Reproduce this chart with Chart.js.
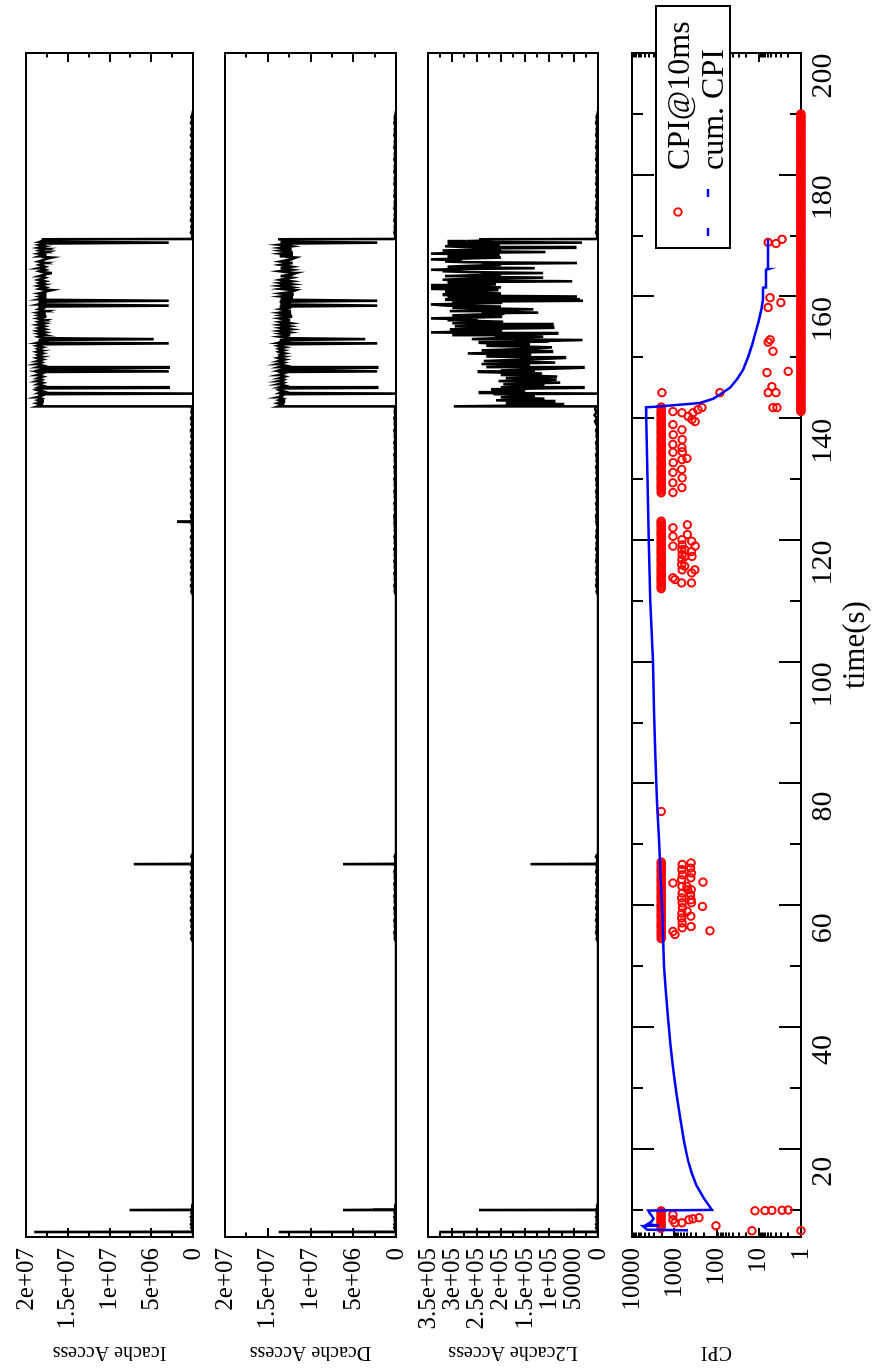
<!DOCTYPE html>
<html>
<head>
<meta charset="utf-8">
<title>Cache accesses and CPI over time</title>
<script src="https://cdn.jsdelivr.net/npm/chart.js"></script>
<style>
  html, body { margin: 0; padding: 0; background: #fff; overflow: hidden; }
  body { width: 874px; height: 1368px; position: relative; }
  /* the figure is laid out landscape and turned a quarter turn for the page */
  #figure { position: absolute; left: 0; top: 0; width: 1368px; height: 874px;
            transform-origin: 0 0; transform: translate(0, 1368px) rotate(-90deg); }
  #figure canvas { position: absolute; left: 0; top: 0; }
</style>
</head>
<body>
<div id="figure">
  <canvas id="icache" width="1368" height="874"></canvas>
  <canvas id="dcache" width="1368" height="874"></canvas>
  <canvas id="l2cache" width="1368" height="874"></canvas>
  <canvas id="cpi" width="1368" height="874"></canvas>
</div>
<script>
// ---------------- axis ticks ----------------
const timeMin = 5.5, timeMax = 200;
const timeTicks = [20, 40, 60, 80, 100, 120, 140, 160, 180, 200];
const timeTickLabels = ['20', '40', '60', '80', '100', '120', '140', '160', '180', '200'];
const timeMinorTicks = [10, 30, 50, 70, 90, 110, 130, 150, 170, 190];

const accessTicks = [0, 5e6, 1e7, 1.5e7, 2e7];
const accessTickLabels = ['0', '5e+06', '1e+07', '1.5e+07', '2e+07'];
const accessMinorTicks = [2.5e6, 7.5e6, 1.25e7, 1.75e7];

const l2Ticks = [0, 5e4, 1e5, 1.5e5, 2e5, 2.5e5, 3e5, 3.5e5];
const l2TickLabels = ['0', '50000', '1e+05', '1.5e+05', '2e+05', '2.5e+05', '3e+05', '3.5e+05'];
const l2MinorTicks = [2.5e4, 7.5e4, 1.25e5, 1.75e5, 2.25e5, 2.75e5, 3.25e5];

const cpiTicks = [1, 10, 100, 1000, 10000];
const cpiTickLabels = ['1', '10', '100', '1000', '10000'];
const cpiMinorTicks = [2, 3, 4, 5, 6, 7, 8, 9, 20, 30, 40, 50, 60, 70, 80, 90,
  200, 300, 400, 500, 600, 700, 800, 900, 2000, 3000, 4000, 5000, 6000, 7000, 8000, 9000];

// ---------------- cache access samples (time in s) ----------------
const cacheTime = [
  // start-up burst
  5.60, 6.28, 6.32, 6.36, 6.70, 7.00, 7.30, 7.60, 7.90, 8.20,
  8.50, 8.80, 9.10, 9.40, 9.88, 9.93, 9.97, 10.02, 10.30, 10.60,
  11.00,
  // second phase
  54.0, 54.5, 55.0, 55.5, 56.0, 56.5, 57.0, 57.5, 58.0, 58.5,
  59.0, 59.5, 60.0, 60.5, 61.0, 61.5, 62.0, 62.5, 63.0, 63.5,
  64.0, 64.5, 65.0, 65.5, 66.0, 66.70, 66.75, 66.80, 67.5, 68.0,
  68.5,
  // third phase
  111.0, 111.5, 112.0, 112.5, 113.0, 113.5, 114.0, 114.5, 115.0, 115.5,
  116.0, 116.5, 117.0, 117.5, 118.0, 118.5, 119.0, 119.5, 120.0, 120.5,
  121.0, 121.5, 122.0, 122.95, 123.0, 123.05, 124.0, 124.5, 125.0, 125.5,
  126.0, 126.5, 127.0, 127.5, 128.0, 128.5, 129.0, 129.5, 130.0, 130.5,
  131.0, 131.5, 132.0, 132.5, 133.0, 133.5, 134.0, 134.5, 135.0, 135.5,
  136.0, 136.5, 137.0, 137.5, 138.0, 138.5, 139.0, 139.5, 140.0, 140.5,
  141.0, 141.5, 141.9,
  // heavy phase
  141.95, 142.20, 142.45, 142.70, 142.95, 143.20, 143.45, 143.70, 143.95, 144.05,
  144.15, 144.40, 144.65, 144.90, 145.00, 145.10, 145.35, 145.60, 145.85, 146.10,
  146.35, 146.60, 146.85, 147.10, 147.35, 147.60, 147.70, 147.85, 148.10, 148.30,
  148.40, 148.65, 148.90, 149.15, 149.40, 149.65, 149.90, 150.15, 150.40, 150.65,
  150.90, 151.15, 151.40, 151.65, 151.90, 152.15, 152.30, 152.40, 152.60, 152.85,
  153.00, 153.15, 153.40, 153.65, 153.90, 154.10, 154.35, 154.60, 154.85, 155.10,
  155.35, 155.60, 155.85, 156.10, 156.40, 156.65, 156.90, 157.15, 157.35, 157.60,
  157.90, 158.15, 158.35, 158.50, 158.70, 158.95, 159.15, 159.30, 159.45, 159.55,
  159.80, 160.00, 160.25, 160.50, 160.75, 161.05, 161.25, 161.50, 161.75, 162.00,
  162.25, 162.50, 162.75, 163.10, 163.35, 163.60, 163.85, 164.15, 164.40, 164.65,
  164.90, 165.20, 165.50, 165.75, 166.10, 166.40, 166.60, 166.85, 167.05, 167.30,
  167.55, 167.80, 168.00, 168.25, 168.50, 168.70, 168.85, 169.00, 169.20, 169.40,
  169.45,
  // tail
  169.5, 170.0, 170.5, 171.0, 171.5, 172.0, 172.5, 173.0, 173.5, 174.0,
  174.5, 175.0, 175.5, 176.0, 176.5, 177.0, 177.5, 178.0, 178.5, 179.0,
  179.5, 180.0, 180.5, 181.0, 181.5, 182.0, 182.5, 183.0, 183.5, 184.0,
  184.5, 185.0, 185.5, 186.0, 186.5, 187.0, 187.5, 188.0, 188.5, 189.0,
  189.5, 190.0, 190.5
];

const icacheValue = [
  0, 0, 1.9e7, 1.5e5, 5e4, 2e5, 1e5, 2.5e5, 5e4, 2e5,
  1e5, 2.5e5, 5e4, 2e5, 1e5, 7.6e6, 1.5e5, 2e5, 5e4, 1e5,
  0,

  0, 2e5, 1e5, 2.5e5, 5e4, 2e5, 1e5, 2.5e5, 5e4, 2e5,
  1e5, 2.5e5, 5e4, 2e5, 1e5, 2.5e5, 5e4, 2e5, 1e5, 2.5e5,
  5e4, 2e5, 1e5, 2.5e5, 5e4, 2e5, 7.1e6, 1.5e5, 5e4, 2e5,
  0,

  0, 2e5, 1e5, 2.5e5, 5e4, 2e5, 1e5, 2.5e5, 5e4, 2e5,
  1e5, 2.5e5, 5e4, 2e5, 1e5, 2.5e5, 5e4, 2e5, 1e5, 2.5e5,
  5e4, 2e5, 1e5, 2e5, 1.9e6, 1e5, 2.5e5, 5e4, 2e5, 1e5,
  2.5e5, 5e4, 2e5, 1e5, 2.5e5, 5e4, 2e5, 1e5, 2.5e5, 5e4,
  2e5, 1e5, 2.5e5, 5e4, 2e5, 1e5, 2.5e5, 5e4, 2e5, 1e5,
  2.5e5, 5e4, 2e5, 1e5, 2.5e5, 5e4, 2e5, 1e5, 2.5e5, 5e4,
  2e5, 1e5, 2e5,

  1.86e7, 1.81e7, 1.87e7, 1.80e7, 1.86e7, 1.81e7, 1.87e7, 1.81e7, 1.85e7, 0,
  1.85e7, 1.80e7, 1.87e7, 1.81e7, 2.9e6, 1.85e7, 1.80e7, 1.86e7, 1.80e7, 1.87e7,
  1.81e7, 1.86e7, 1.80e7, 1.87e7, 1.81e7, 1.86e7, 2.9e6, 1.86e7, 1.80e7, 2.9e6,
  1.86e7, 1.80e7, 1.87e7, 1.81e7, 1.86e7, 1.80e7, 1.87e7, 1.81e7, 1.86e7, 1.80e7,
  1.87e7, 1.81e7, 1.86e7, 1.80e7, 1.87e7, 1.81e7, 2.9e6, 1.86e7, 1.80e7, 1.85e7,
  4.7e6, 1.79e7, 1.85e7, 1.77e7, 1.85e7, 1.77e7, 1.86e7, 1.77e7, 1.85e7, 1.78e7,
  1.86e7, 1.77e7, 1.85e7, 1.78e7, 1.86e7, 1.77e7, 1.85e7, 1.78e7, 1.86e7, 1.77e7,
  1.85e7, 1.78e7, 1.85e7, 2.9e6, 1.85e7, 1.77e7, 1.85e7, 2.9e6, 1.77e7, 1.84e7,
  1.77e7, 1.84e7, 1.77e7, 1.85e7, 1.77e7, 1.69e7, 1.84e7, 1.77e7, 1.85e7, 1.77e7,
  1.84e7, 1.77e7, 1.85e7, 1.77e7, 1.84e7, 1.77e7, 1.69e7, 1.84e7, 1.77e7, 1.85e7,
  1.77e7, 1.84e7, 1.77e7, 1.85e7, 1.77e7, 1.69e7, 1.84e7, 1.77e7, 1.85e7, 1.77e7,
  1.84e7, 1.77e7, 1.85e7, 1.77e7, 1.84e7, 1.77e7, 2.9e6, 1.83e7, 1.78e7, 1.81e7,
  1e5,

  2e5, 5e4, 2.5e5, 1e5, 2e5, 5e4, 2.5e5, 1e5, 2e5, 5e4,
  2.5e5, 1e5, 2e5, 5e4, 2.5e5, 1e5, 2e5, 5e4, 2.5e5, 1e5,
  2e5, 5e4, 2.5e5, 1e5, 2e5, 5e4, 2.5e5, 1e5, 2e5, 5e4,
  2.5e5, 1e5, 2e5, 5e4, 2.5e5, 1e5, 2e5, 5e4, 2.5e5, 1e5,
  2e5, 5e4, 0
];

const dcacheValue = [
  0, 0, 1.37e7, 1.5e5, 5e4, 2e5, 1e5, 2e5, 5e4, 1.5e5,
  1e5, 2e5, 5e4, 1.5e5, 1e5, 6.2e6, 2.7e6, 1.5e5, 5e4, 1e5,
  0,

  0, 1.5e5, 1e5, 2e5, 5e4, 1.5e5, 1e5, 2e5, 5e4, 1.5e5,
  1e5, 2e5, 5e4, 1.5e5, 1e5, 2e5, 5e4, 1.5e5, 1e5, 2e5,
  5e4, 1.5e5, 1e5, 2e5, 5e4, 1.5e5, 6.2e6, 1e5, 5e4, 1.5e5,
  0,

  0, 1.5e5, 1e5, 2e5, 5e4, 1.5e5, 1e5, 2e5, 5e4, 1.5e5,
  1e5, 2e5, 5e4, 1.5e5, 1e5, 2e5, 5e4, 1.5e5, 1e5, 2e5,
  5e4, 1.5e5, 1e5, 1.5e5, 1e5, 1e5, 2e5, 5e4, 1.5e5, 1e5,
  2e5, 5e4, 1.5e5, 1e5, 2e5, 5e4, 1.5e5, 1e5, 2e5, 5e4,
  1.5e5, 1e5, 2e5, 5e4, 1.5e5, 1e5, 2e5, 5e4, 1.5e5, 1e5,
  2e5, 5e4, 1.5e5, 1e5, 2e5, 5e4, 1.5e5, 1e5, 2e5, 5e4,
  1.5e5, 1e5, 1.5e5,

  1.37e7, 1.32e7, 1.38e7, 1.31e7, 1.37e7, 1.32e7, 1.38e7, 1.33e7, 1.36e7, 0,
  1.36e7, 1.31e7, 1.37e7, 1.32e7, 2.2e6, 1.36e7, 1.30e7, 1.37e7, 1.31e7, 1.37e7,
  1.31e7, 1.36e7, 1.30e7, 1.37e7, 1.31e7, 1.36e7, 2.2e6, 1.37e7, 1.31e7, 2.2e6,
  1.37e7, 1.30e7, 1.38e7, 1.31e7, 1.37e7, 1.30e7, 1.38e7, 1.31e7, 1.36e7, 1.30e7,
  1.37e7, 1.31e7, 1.37e7, 1.30e7, 1.38e7, 1.31e7, 2.2e6, 1.37e7, 1.31e7, 1.36e7,
  3.6e6, 1.29e7, 1.36e7, 1.24e7, 1.35e7, 1.24e7, 1.36e7, 1.23e7, 1.35e7, 1.24e7,
  1.36e7, 1.23e7, 1.35e7, 1.24e7, 1.36e7, 1.23e7, 1.35e7, 1.24e7, 1.36e7, 1.23e7,
  1.35e7, 1.24e7, 1.36e7, 2.2e6, 1.35e7, 1.24e7, 1.36e7, 2.2e6, 1.22e7, 1.35e7,
  1.22e7, 1.35e7, 1.21e7, 1.35e7, 1.22e7, 1.17e7, 1.35e7, 1.22e7, 1.36e7, 1.21e7,
  1.35e7, 1.22e7, 1.35e7, 1.22e7, 1.35e7, 1.21e7, 1.17e7, 1.36e7, 1.22e7, 1.35e7,
  1.22e7, 1.35e7, 1.21e7, 1.35e7, 1.22e7, 1.17e7, 1.36e7, 1.22e7, 1.35e7, 1.21e7,
  1.35e7, 1.22e7, 1.35e7, 1.22e7, 1.36e7, 1.22e7, 2.2e6, 1.35e7, 1.27e7, 1.38e7,
  1e5,

  1.5e5, 5e4, 2e5, 1e5, 1.5e5, 5e4, 2e5, 1e5, 1.5e5, 5e4,
  2e5, 1e5, 1.5e5, 5e4, 2e5, 1e5, 1.5e5, 5e4, 2e5, 1e5,
  1.5e5, 5e4, 2e5, 1e5, 1.5e5, 5e4, 2e5, 1e5, 1.5e5, 5e4,
  2e5, 1e5, 1.5e5, 5e4, 2e5, 1e5, 1.5e5, 5e4, 2e5, 1e5,
  1.5e5, 5e4, 0
];

const l2cacheValue = [
  0, 0, 3.27e5, 3e3, 1e3, 4e3, 2e3, 4e3, 1e3, 3e3,
  2e3, 4e3, 1e3, 3e3, 2e3, 2.45e5, 3e3, 4e3, 1e3, 2e3,
  0,

  0, 3e3, 1e3, 4e3, 2e3, 3e3, 1e3, 4e3, 2e3, 3e3,
  1e3, 4e3, 2e3, 3e3, 1e3, 4e3, 2e3, 3e3, 1e3, 4e3,
  2e3, 3e3, 1e3, 4e3, 2e3, 3e3, 1.39e5, 3e3, 1e3, 4e3,
  0,

  0, 3e3, 1e3, 4e3, 2e3, 3e3, 1e3, 4e3, 2e3, 3e3,
  1e3, 4e3, 2e3, 3e3, 1e3, 4e3, 2e3, 3e3, 1e3, 4e3,
  2e3, 3e3, 1e3, 3e3, 2e3, 2e3, 4e3, 1e3, 3e3, 2e3,
  4e3, 1e3, 3e3, 2e3, 4e3, 1e3, 3e3, 2e3, 4e3, 1e3,
  3e3, 2e3, 4e3, 1e3, 3e3, 2e3, 4e3, 1e3, 3e3, 2e3,
  4e3, 1e3, 3e3, 2e3, 4e3, 1e3, 3e3, 6e3, 2e3, 7e3,
  3e3, 6e3, 4e3,

  2.97e5, 7.2e4, 1.9e5, 9.0e4, 2.1e5, 1.1e5, 2.0e5, 1.3e5, 2.15e5, 0,
  2.46e5, 1.5e5, 2.2e5, 1.3e5, 3.0e4, 2.0e5, 1.1e5, 1.95e5, 7.8e4, 2.05e5,
  8.5e4, 1.9e5, 8.4e4, 2.0e5, 1.15e5, 2.48e5, 1.3e5, 2.0e5, 1.1e5, 3.0e4,
  2.3e5, 1.4e5, 2.4e5, 8.8e4, 2.35e5, 1.45e5, 6.8e4, 2.3e5, 1.4e5, 2.68e5,
  9.5e4, 2.4e5, 1.35e5, 9.5e4, 2.3e5, 1.4e5, 2.2e5, 2.46e5, 1.04e5, 3.2e4,
  2.6e5, 2.1e5, 1.13e5, 3.0e5, 8.4e4, 3.44e5, 2.0e5, 3.05e5, 9.2e4, 2.95e5,
  9.4e4, 3.0e5, 1.95e5, 3.1e5, 3.44e5, 2.0e5, 3.0e5, 1.95e5, 1.23e5, 3.05e5,
  1.33e5, 3.0e5, 2.0e5, 3.1e5, 3.44e5, 2.0e5, 3.0e5, 3.1e4, 3.15e5, 3.7e4,
  3.1e5, 4.3e4, 3.2e5, 2.0e5, 3.15e5, 2.05e5, 3.44e5, 2.0e5, 3.44e5, 2.1e5,
  3.1e5, 5.3e4, 3.2e5, 1.13e5, 3.15e5, 2.0e5, 1.13e5, 3.2e5, 3.44e5, 1.3e5,
  3.1e5, 2.0e5, 4.3e4, 3.15e5, 3.44e5, 2.0e5, 3.1e5, 2.05e5, 3.44e5, 1.08e5,
  3.2e5, 2.0e5, 4.7e4, 3.15e5, 2.05e5, 3.1e5, 3.3e4, 3.1e5, 2.2e5, 2.45e5,
  3e3,

  3e3, 1e3, 4e3, 2e3, 3e3, 1e3, 4e3, 2e3, 3e3, 1e3,
  4e3, 2e3, 3e3, 1e3, 4e3, 2e3, 3e3, 1e3, 4e3, 2e3,
  3e3, 1e3, 4e3, 2e3, 3e3, 1e3, 4e3, 2e3, 3e3, 1e3,
  4e3, 2e3, 3e3, 1e3, 4e3, 2e3, 3e3, 1e3, 4e3, 2e3,
  3e3, 1e3, 0
];

// extra samples inside the heavy phase (between the ones above)
const burstTime = [
  142.08, 142.33, 142.58, 142.83, 143.08, 143.33, 143.58, 143.83,
  144.28, 144.53, 144.78,
  145.23, 145.48, 145.73, 145.98, 146.23, 146.48, 146.73, 146.98, 147.23, 147.48,
  147.98,
  148.53, 148.78, 149.03, 149.28, 149.53, 149.78, 150.03, 150.28, 150.53, 150.78, 151.03, 151.28, 151.53, 151.78, 152.03,
  152.50, 152.72,
  153.28, 153.53, 153.78, 154.00, 154.23, 154.48, 154.73, 154.98, 155.23, 155.48, 155.73, 155.98, 156.25, 156.53, 156.78, 157.03, 157.25, 157.48, 157.75, 158.03, 158.25,
  158.83, 159.05,
  159.68, 159.90, 160.13, 160.38, 160.63, 160.90, 161.15, 161.38, 161.63, 161.88,
  162.13, 162.38, 162.63, 162.93, 163.23, 163.48, 163.73, 164.00, 164.28, 164.53,
  164.78, 165.05, 165.35, 165.63, 165.93, 166.25, 166.50, 166.73, 166.95, 167.18,
  167.43, 167.68, 167.90, 168.13, 168.38, 168.60,
  169.10, 169.30
];
const burstIcache = [
  1.83e7, 1.84e7, 1.83e7, 1.84e7, 1.83e7, 1.84e7, 1.83e7, 1.84e7,
  1.83e7, 1.84e7, 1.83e7,
  1.83e7, 1.83e7, 1.84e7, 1.83e7, 1.84e7, 1.83e7, 1.84e7, 1.83e7, 1.84e7, 1.83e7,
  1.83e7,
  1.83e7, 1.84e7, 1.83e7, 1.84e7, 1.83e7, 1.84e7, 1.83e7, 1.84e7, 1.83e7, 1.84e7, 1.83e7, 1.84e7, 1.83e7, 1.84e7, 1.83e7,
  1.83e7, 1.83e7,
  1.81e7, 1.82e7, 1.81e7, 1.81e7, 1.82e7, 1.81e7, 1.81e7, 1.82e7, 1.81e7, 1.81e7, 1.82e7, 1.81e7, 1.81e7, 1.82e7, 1.81e7, 1.81e7, 1.82e7, 1.81e7, 1.81e7, 1.82e7, 1.81e7,
  1.81e7, 1.81e7,
  1.80e7, 1.81e7, 1.80e7, 1.81e7, 1.80e7, 1.74e7, 1.80e7, 1.81e7, 1.80e7, 1.81e7,
  1.80e7, 1.81e7, 1.80e7, 1.81e7, 1.80e7, 1.81e7, 1.74e7, 1.80e7, 1.81e7, 1.80e7,
  1.81e7, 1.80e7, 1.81e7, 1.80e7, 1.81e7, 1.74e7, 1.80e7, 1.81e7, 1.80e7, 1.81e7,
  1.80e7, 1.81e7, 1.80e7, 1.81e7, 1.80e7, 1.81e7,
  1.81e7, 1.80e7
];
const burstDcache = [
  1.34e7, 1.35e7, 1.34e7, 1.35e7, 1.34e7, 1.35e7, 1.34e7, 1.35e7,
  1.34e7, 1.35e7, 1.34e7,
  1.33e7, 1.34e7, 1.33e7, 1.34e7, 1.33e7, 1.34e7, 1.33e7, 1.34e7, 1.33e7, 1.34e7,
  1.34e7,
  1.34e7, 1.35e7, 1.34e7, 1.35e7, 1.34e7, 1.35e7, 1.34e7, 1.35e7, 1.34e7, 1.35e7, 1.34e7, 1.35e7, 1.34e7, 1.35e7, 1.34e7,
  1.34e7, 1.33e7,
  1.30e7, 1.29e7, 1.30e7, 1.30e7, 1.29e7, 1.30e7, 1.30e7, 1.29e7, 1.30e7, 1.30e7, 1.29e7, 1.30e7, 1.30e7, 1.29e7, 1.30e7, 1.30e7, 1.29e7, 1.30e7, 1.30e7, 1.29e7, 1.30e7,
  1.30e7, 1.30e7,
  1.28e7, 1.29e7, 1.28e7, 1.29e7, 1.28e7, 1.20e7, 1.28e7, 1.29e7, 1.28e7, 1.29e7,
  1.28e7, 1.29e7, 1.28e7, 1.29e7, 1.28e7, 1.29e7, 1.20e7, 1.28e7, 1.29e7, 1.28e7,
  1.29e7, 1.28e7, 1.29e7, 1.28e7, 1.29e7, 1.20e7, 1.28e7, 1.29e7, 1.28e7, 1.29e7,
  1.28e7, 1.29e7, 1.28e7, 1.29e7, 1.28e7, 1.29e7,
  1.31e7, 1.30e7
];
const burstL2cache = [
  1.6e5, 1.3e5, 1.4e5, 1.5e5, 1.6e5, 1.55e5, 1.65e5, 1.7e5,
  2.0e5, 1.85e5, 1.75e5,
  1.55e5, 1.5e5, 1.4e5, 1.45e5, 1.5e5, 1.4e5, 1.35e5, 1.45e5, 1.6e5, 1.8e5,
  1.55e5,
  1.85e5, 1.9e5, 1.6e5, 1.6e5, 1.9e5, 1.05e5, 1.5e5, 1.85e5, 2.0e5, 1.8e5, 1.7e5, 1.9e5, 1.15e5, 1.6e5, 1.85e5,
  1.75e5, 1.0e5,
  1.6e5, 2.1e5, 1.9e5, 2.1e5, 2.7e5, 2.5e5, 2.0e5, 1.9e5, 1.9e5, 2.0e5, 2.5e5, 2.5e5, 2.6e5, 2.7e5, 2.5e5, 2.5e5, 2.4e5, 2.1e5, 2.2e5, 2.2e5, 2.5e5,
  2.7e5, 2.5e5,
  2.6e5, 2.7e5, 2.7e5, 2.6e5, 2.6e5, 2.6e5, 2.7e5, 2.7e5, 2.7e5, 2.8e5,
  2.6e5, 2.7e5, 2.7e5, 2.6e5, 2.6e5, 2.6e5, 2.4e5, 2.6e5, 2.8e5, 2.7e5,
  2.6e5, 2.6e5, 2.4e5, 2.7e5, 2.8e5, 2.7e5, 2.6e5, 2.6e5, 2.7e5, 2.8e5,
  2.6e5, 2.6e5, 2.4e5, 2.7e5, 2.6e5, 2.6e5,
  2.7e5, 2.3e5
];

// ---------------- CPI sampled every 10 ms ----------------
// steady stretches around CPI ~2000
const bandTime = [
  6.90, 7.20, 7.50, 7.80, 8.10, 8.40, 8.70, 9.00, 9.30, 9.60, 9.80,

  54.5, 54.8, 55.1, 55.4, 55.7, 56.0, 56.3, 56.6, 56.9, 57.2,
  57.5, 57.8, 58.1, 58.4, 58.7, 59.0, 59.3, 59.6, 59.9, 60.2,
  60.5, 60.8, 61.1, 61.4, 61.7, 62.0, 62.3, 62.6, 62.9, 63.2,
  63.5, 63.8, 64.1, 64.4, 64.7, 65.0, 65.3, 65.6, 65.9, 66.2,
  66.5, 66.8, 67.1,

  112.0, 112.3, 112.6, 112.9, 113.2, 113.5, 113.8, 114.1, 114.4, 114.7,
  115.0, 115.3, 115.6, 115.9, 116.2, 116.5, 116.8, 117.1, 117.4, 117.7,
  118.0, 118.3, 118.6, 118.9, 119.2, 119.5, 119.8, 120.1, 120.4, 120.7,
  121.0, 121.3, 121.6, 121.9, 122.2, 122.5, 122.8, 123.1,

  127.75, 128.05, 128.35, 128.65, 128.95, 129.25, 129.55, 129.85, 130.15, 130.45,
  130.75, 131.05, 131.35, 131.65, 131.95, 132.25, 132.55, 132.85, 133.15, 133.45,
  133.75, 134.05, 134.35, 134.65, 134.95, 135.25, 135.55, 135.85, 136.15, 136.45,
  136.75, 137.05, 137.35, 137.65, 137.95, 138.25, 138.55, 138.85, 139.15, 139.45,
  139.75, 140.05, 140.35, 140.65, 140.95, 141.25, 141.55, 141.85
];
const bandValue = [
  2060, 2050, 2060, 2040, 2060, 2050, 2060, 2050, 2040, 2060, 2050,

  2030, 2020, 2030, 2040, 2030, 2020, 2030, 2030, 2040, 2030,
  2020, 2030, 2030, 2040, 2030, 2020, 2030, 2030, 2040, 2030,
  2020, 2030, 2030, 2040, 2030, 2020, 2030, 2030, 2040, 2030,
  2020, 2030, 2030, 2040, 2030, 2020, 2030, 2030, 2040, 2030,
  2020, 2030, 2030,

  2030, 2040, 2030, 2020, 2030, 2030, 2040, 2030, 2020, 2030,
  2030, 2040, 2030, 2020, 2030, 2030, 2040, 2030, 2020, 2030,
  2030, 2040, 2030, 2020, 2030, 2030, 2040, 2030, 2020, 2030,
  2030, 2040, 2030, 2020, 2030, 2030, 2040, 2030,

  2030, 2020, 2030, 2040, 2030, 2030, 2020, 2030, 2040, 2030,
  2030, 2020, 2030, 2040, 2030, 2030, 2020, 2030, 2040, 2030,
  2030, 2020, 2030, 2040, 2030, 2030, 2020, 2030, 2040, 2030,
  2030, 2020, 2030, 2040, 2030, 2030, 2020, 2030, 2040, 2030,
  2030, 2020, 2030, 2040, 2030, 2030, 2020, 2030
];

// scattered samples
const scatterTime = [
  9.15, 8.34, 7.83, 7.83, 8.34, 8.50, 8.67, 7.34, 6.52, 9.81, 9.84, 9.87, 9.90, 9.93, 6.55,

  66.7, 65.85, 65.0, 64.2, 63.1, 62.0, 61.2, 60.4, 59.6, 58.7, 57.9, 57.1, 56.3,
  66.95, 66.1, 65.3, 64.5, 62.55, 61.7, 60.9, 60.4, 58.2, 56.5,
  63.65, 55.7, 55.2, 63.8, 59.8, 55.8, 75.4, 63.1, 62.55, 59.0,

  122.0, 120.6, 119.0, 113.8, 113.5, 112.95, 122.5, 120.9,
  120.05, 119.2, 118.4, 117.6, 116.8, 115.95, 115.1,
  119.8, 118.1, 117.3, 114.6, 112.95,
  119.0, 115.1,
  118.4, 117.3, 115.7,

  144.2, 144.2, 141.1, 140.9, 140.3, 140.9, 141.4, 141.75, 139.8, 139.45,
  138.96, 137.3, 135.7, 134.4, 132.7, 131.1, 129.4, 127.8,
  138.1, 136.5, 135.2, 134.5, 133.2, 131.6, 130.2, 128.6,
  133.4,

  141.75, 141.75, 144.2, 144.2, 145.2, 147.5, 147.7, 151.0, 152.5, 152.9,
  159.8, 159.0, 158.2, 168.9, 168.7, 169.4
];
const scatterValue = [
  1070, 1070, 960, 660, 450, 360, 260, 103, 14.5, 12.3, 7.1, 4.9, 2.8, 2.0, 1.0,

  650, 660, 640, 670, 655, 645, 665, 650, 640, 660, 670, 650, 645,
  400, 410, 390, 405, 395, 410, 400, 390, 405, 400,
  1070, 1070, 960, 209, 214, 143, 2030, 500, 480, 495,

  1070, 1070, 1070, 1070, 960, 670, 490, 490,
  656, 650, 660, 645, 655, 665, 650,
  385, 390, 380, 385, 390,
  320, 325,
  560, 555, 565,

  1950, 83, 1070, 656, 470, 360, 275, 220, 380, 320,
  1070, 1060, 1080, 1070, 1060, 1070, 1080, 1070,
  656, 650, 660, 645, 655, 665, 650, 660,
  500,

  4.6, 3.7, 6.0, 3.9, 4.9, 6.4, 2.0, 4.6, 6.0, 5.4,
  5.4, 3.0, 6.0, 6.0, 3.9, 2.8
];

// the long stretch at CPI = 1
const unitTime = [
  141.1, 141.4, 141.7, 142.0, 142.3, 142.6, 142.9, 143.2, 143.5, 143.8,
  144.1, 144.4, 144.7, 145.0, 145.3, 145.6, 145.9, 146.2, 146.5, 146.8,
  147.1, 147.4, 147.7, 148.0, 148.3, 148.6, 148.9, 149.2, 149.5, 149.8,
  150.1, 150.4, 150.7, 151.0, 151.3, 151.6, 151.9, 152.2, 152.5, 152.8,
  153.1, 153.4, 153.7, 154.0, 154.3, 154.6, 154.9, 155.2, 155.5, 155.8,
  156.1, 156.4, 156.7, 157.0, 157.3, 157.6, 157.9, 158.2, 158.5, 158.8,
  159.1, 159.4, 159.7, 160.0, 160.3, 160.6, 160.9, 161.2, 161.5, 161.8,
  162.1, 162.4, 162.7, 163.0, 163.3, 163.6, 163.9, 164.2, 164.5, 164.8,
  165.1, 165.4, 165.7, 166.0, 166.3, 166.6, 166.9, 167.2, 167.5, 167.8,
  168.1, 168.4, 168.7, 169.0, 169.3, 169.6, 169.9, 170.2, 170.5, 170.8,
  171.1, 171.4, 171.7, 172.0, 172.3, 172.6, 172.9, 173.2, 173.5, 173.8,
  174.1, 174.4, 174.7, 175.0, 175.3, 175.6, 175.9, 176.2, 176.5, 176.8,
  177.1, 177.4, 177.7, 178.0, 178.3, 178.6, 178.9, 179.2, 179.5, 179.8,
  180.1, 180.4, 180.7, 181.0, 181.3, 181.6, 181.9, 182.2, 182.5, 182.8,
  183.1, 183.4, 183.7, 184.0, 184.3, 184.6, 184.9, 185.2, 185.5, 185.8,
  186.1, 186.4, 186.7, 187.0, 187.3, 187.6, 187.9, 188.2, 188.5, 188.8,
  189.1, 189.4, 189.7, 190.0
];
const unitValue = [
  1, 1, 1, 1, 1, 1, 1, 1, 1, 1,
  1, 1, 1, 1, 1, 1, 1, 1, 1, 1,
  1, 1, 1, 1, 1, 1, 1, 1, 1, 1,
  1, 1, 1, 1, 1, 1, 1, 1, 1, 1,
  1, 1, 1, 1, 1, 1, 1, 1, 1, 1,
  1, 1, 1, 1, 1, 1, 1, 1, 1, 1,
  1, 1, 1, 1, 1, 1, 1, 1, 1, 1,
  1, 1, 1, 1, 1, 1, 1, 1, 1, 1,
  1, 1, 1, 1, 1, 1, 1, 1, 1, 1,
  1, 1, 1, 1, 1, 1, 1, 1, 1, 1,
  1, 1, 1, 1, 1, 1, 1, 1, 1, 1,
  1, 1, 1, 1, 1, 1, 1, 1, 1, 1,
  1, 1, 1, 1, 1, 1, 1, 1, 1, 1,
  1, 1, 1, 1, 1, 1, 1, 1, 1, 1,
  1, 1, 1, 1, 1, 1, 1, 1, 1, 1,
  1, 1, 1, 1, 1, 1, 1, 1, 1, 1,
  1, 1, 1, 1
];

// ---------------- cumulative CPI ----------------
const cumTime = [
  6.60, 6.70, 7.30, 7.40, 7.60, 8.00, 8.50, 9.00, 9.40, 9.85,
  9.95, 12.0, 14.0, 16.0, 18.0, 21.0, 25.0, 29.0, 33.0, 37.0,
  41.5, 46.0, 50.0, 55.0, 60.0, 65.0, 70.0, 77.0, 85.0, 92.0,
  100.0, 110.0, 120.0, 130.0, 141.8, 141.9, 142.5, 143.2, 143.9, 145.0,
  146.5, 148.0, 150.0, 152.0, 154.0, 156.0, 158.0, 159.5, 161.4, 161.5,
  164.4, 164.5, 169.4
];
const cumValue = [
  470, 4400, 5500, 2300, 4300, 3500, 3100, 3400, 3800, 4100,
  128, 205, 300, 385, 470, 580, 720, 880, 1060, 1230,
  1400, 1580, 1740, 1850, 1950, 2120, 2280, 2550, 2800, 3000,
  3200, 3700, 4000, 4300, 4650, 2600, 250, 120, 83, 48,
  32, 23.3, 18, 14.5, 12, 10, 8.6, 7.9, 7.9, 6.7,
  6.7, 6.0, 6.0
];

// ---------------- drawing ----------------
const FONT = '"Liberation Serif", "Times New Roman", Times, serif';
Chart.defaults.font.family = FONT;
Chart.defaults.color = '#000';

const W = 1368, H = 874;
const AREA_LEFT = 131, AREA_RIGHT = 1315, AXIS_BOTTOM = 801;

const pairs = (xs, ys) => xs.map((x, i) => ({ x, y: ys[i] }));
// merge the regular samples with the extra heavy-phase samples, in time order
const merged = (values, extra) =>
  pairs(cacheTime, values).concat(pairs(burstTime, extra)).sort((a, b) => a.x - b.x);

// gnuplot-style frame with inward tick marks on every side
function framePlugin(yMarks, xMarks) {
  return {
    id: 'frame',
    beforeDatasetsDraw(chart) {
      const { ctx, chartArea: a, scales } = chart;
      ctx.save();
      ctx.strokeStyle = '#000';
      ctx.lineWidth = 2;
      ctx.beginPath();
      yMarks.forEach(([vals, len]) => vals.forEach(v => {
        const p = Math.round(scales.y.getPixelForValue(v));
        ctx.moveTo(a.left, p); ctx.lineTo(a.left + len, p);
        ctx.moveTo(a.right, p); ctx.lineTo(a.right - len, p);
      }));
      xMarks.forEach(([vals, len]) => vals.forEach(v => {
        const p = Math.round(scales.x.getPixelForValue(v));
        ctx.moveTo(p, a.bottom); ctx.lineTo(p, a.bottom - len);
        ctx.moveTo(p, a.top); ctx.lineTo(p, a.top + len);
      }));
      ctx.stroke();
      ctx.strokeRect(a.left, a.top, a.right - a.left, a.bottom - a.top);
      ctx.restore();
    }
  };
}

// key box for the CPI panel, built from the two datasets
const keyPlugin = {
  id: 'key',
  afterDraw(chart) {
    const { ctx, chartArea: a } = chart;
    const [pts, cum] = chart.data.datasets;
    const left = a.right - 195, top = a.top + 24, w = 242, h = 74;
    ctx.save();
    ctx.fillStyle = '#fff';
    ctx.fillRect(left, top, w, h);
    ctx.strokeStyle = '#000';
    ctx.lineWidth = 2;
    ctx.strokeRect(left, top, w, h);
    ctx.beginPath();
    ctx.arc(left + 36, top + 22, pts.pointRadius, 0, Math.PI * 2);
    ctx.strokeStyle = pts.pointBorderColor;
    ctx.lineWidth = pts.pointBorderWidth;
    ctx.stroke();
    ctx.beginPath();
    ctx.setLineDash([8, 31]);
    ctx.strokeStyle = cum.borderColor;
    ctx.lineWidth = cum.borderWidth;
    ctx.moveTo(left + 12, top + 52);
    ctx.lineTo(left + 60, top + 52);
    ctx.stroke();
    ctx.setLineDash([]);
    ctx.fillStyle = '#000';
    ctx.font = '32px ' + FONT;
    ctx.textAlign = 'left';
    ctx.textBaseline = 'alphabetic';
    ctx.fillText(pts.label, left + 78, top + 33);
    ctx.fillText(cum.label, left + 78, top + 67);
    ctx.restore();
  }
};

function valueAxis(type, min, max, ticks, labels, title) {
  return {
    type, min, max, position: 'left',
    grid: { display: false, drawTicks: false },
    border: { display: false },
    afterBuildTicks: s => { s.ticks = ticks.map(v => ({ value: v })); },
    afterFit: s => { s.width = AREA_LEFT; },
    ticks: {
      autoSkip: false, padding: 11, font: { size: 25 }, color: '#000',
      callback: v => labels[ticks.indexOf(v)]
    },
    title: { display: true, text: title, font: { size: 20 }, color: '#000', padding: { top: 4, bottom: 0 } }
  };
}

function cachePanel(id, top, bottom, points, axis, major, minor) {
  new Chart(document.getElementById(id), {
    type: 'line',
    data: {
      datasets: [{
        data: points,
        borderColor: '#000', borderWidth: 2.6, pointRadius: 0, tension: 0
      }]
    },
    options: {
      responsive: false, animation: false, events: [],
      layout: { padding: { left: 0, right: W - AREA_RIGHT, top, bottom: H - bottom } },
      plugins: { legend: { display: false }, tooltip: { enabled: false } },
      scales: {
        x: { type: 'linear', min: timeMin, max: timeMax, display: false },
        y: axis
      }
    },
    plugins: [framePlugin([[major, 9], [minor, 4.5]], [])]
  });
}

cachePanel('icache', 22, 193, merged(icacheValue, burstIcache),
  valueAxis('linear', 0, 2e7, accessTicks, accessTickLabels, 'Icache Access'), accessTicks, accessMinorTicks);
cachePanel('dcache', 225, 396, merged(dcacheValue, burstDcache),
  valueAxis('linear', 0, 2e7, accessTicks, accessTickLabels, 'Dcache Access'), accessTicks, accessMinorTicks);
cachePanel('l2cache', 428, 598, merged(l2cacheValue, burstL2cache),
  valueAxis('linear', 0, 3.5e5, l2Ticks, l2TickLabels, 'L2cache Access'), l2Ticks, l2MinorTicks);

const cpiPoints = pairs(bandTime.concat(scatterTime, unitTime), bandValue.concat(scatterValue, unitValue));

new Chart(document.getElementById('cpi'), {
  type: 'scatter',
  data: {
    datasets: [
      {
        label: 'CPI@10ms',
        data: cpiPoints,
        showLine: false,
        pointStyle: 'circle', pointRadius: 3.7, pointBorderWidth: 2,
        pointBorderColor: '#ff0000', pointBackgroundColor: 'rgba(0,0,0,0)',
        clip: false, order: 1
      },
      {
        label: 'cum. CPI',
        data: pairs(cumTime, cumValue),
        showLine: true, pointRadius: 0,
        borderColor: '#0000ff', borderWidth: 2.5, tension: 0, order: 0
      }
    ]
  },
  options: {
    responsive: false, animation: false, events: [],
    layout: { padding: { left: 0, right: W - AREA_RIGHT, top: 632, bottom: 0 } },
    plugins: { legend: { display: false }, tooltip: { enabled: false } },
    scales: {
      x: {
        type: 'linear', min: timeMin, max: timeMax, position: 'bottom',
        grid: { display: false, drawTicks: false },
        border: { display: false },
        afterBuildTicks: s => { s.ticks = timeTicks.map(v => ({ value: v })); },
        afterFit: s => { s.height = H - AXIS_BOTTOM; },
        ticks: {
          autoSkip: false, maxRotation: 0, minRotation: 0, padding: 4, labelOffset: -23,
          font: { size: 30 }, color: '#000',
          callback: v => timeTickLabels[timeTicks.indexOf(v)]
        },
        title: { display: true, text: 'time(s)', font: { size: 31 }, color: '#000', padding: { top: 0, bottom: 0 } }
      },
      y: valueAxis('logarithmic', 1, 10000, cpiTicks, cpiTickLabels, 'CPI')
    }
  },
  plugins: [framePlugin([[cpiTicks, 9], [cpiMinorTicks, 4.5]], [[timeTicks, 22], [timeMinorTicks, 11]]), keyPlugin]
});
</script>
</body>
</html>
